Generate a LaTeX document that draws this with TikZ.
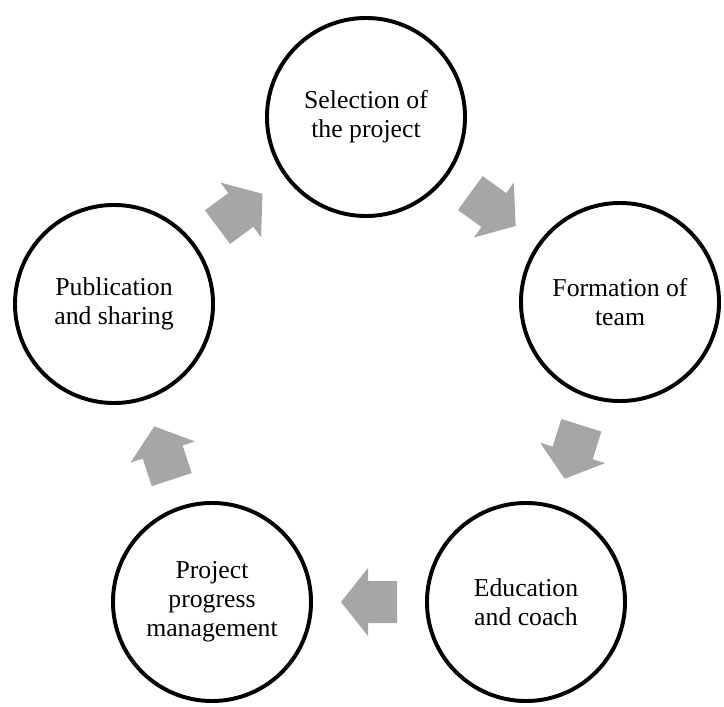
\documentclass[tikz,border=0pt]{standalone}
\usepackage{fontspec}
\setmainfont{Liberation Serif}
\usetikzlibrary{calc}

\definecolor{arrowgray}{RGB}{166,166,166}

\tikzset{
	stepcircle/.style={circle, draw=black, line width=2.8pt, minimum size=4.95cm, inner sep=0pt, align=center, font=\fontsize{18.3}{20.5}\selectfont},
	cyclearrow/.pic={\fill[arrowgray] (-28,-21) -- (1,-21) -- (1,-34) -- (28,0) -- (1,34) -- (1,21) -- (-28,21) -- cycle;},
	blockarrow/.style={to path={let \p1=($(\tikztotarget)-(\tikztostart)$) in ($(\tikztostart)!0.5!(\tikztotarget)$) pic[rotate={atan2(\y1,\x1)}] {cyclearrow}}}
}

\begin{document}
\begin{tikzpicture}[x=0.025cm, y=0.025cm]
			\useasboundingbox (0,0) rectangle (724,706);
			
			\node[stepcircle] (sel) at (366,589){Selection of\\the project};
			\node[stepcircle] (form) at (620,404){Formation of\\team};
			\node[stepcircle] (edu) at (526,104){Education\\and coach};
			\node[stepcircle] (prog) at (212,104){Project\\progress\\management};
			\node[stepcircle] (pub) at (114,402){Publication\\and sharing};
			
			\path (pub) edge[blockarrow] (sel);
			\path (sel) edge[blockarrow] (form);
			\path (form) edge[blockarrow] (edu);
			\path (edu) edge[blockarrow] (prog);
			\path (prog) edge[blockarrow] (pub);
			\end{tikzpicture}
\end{document}
